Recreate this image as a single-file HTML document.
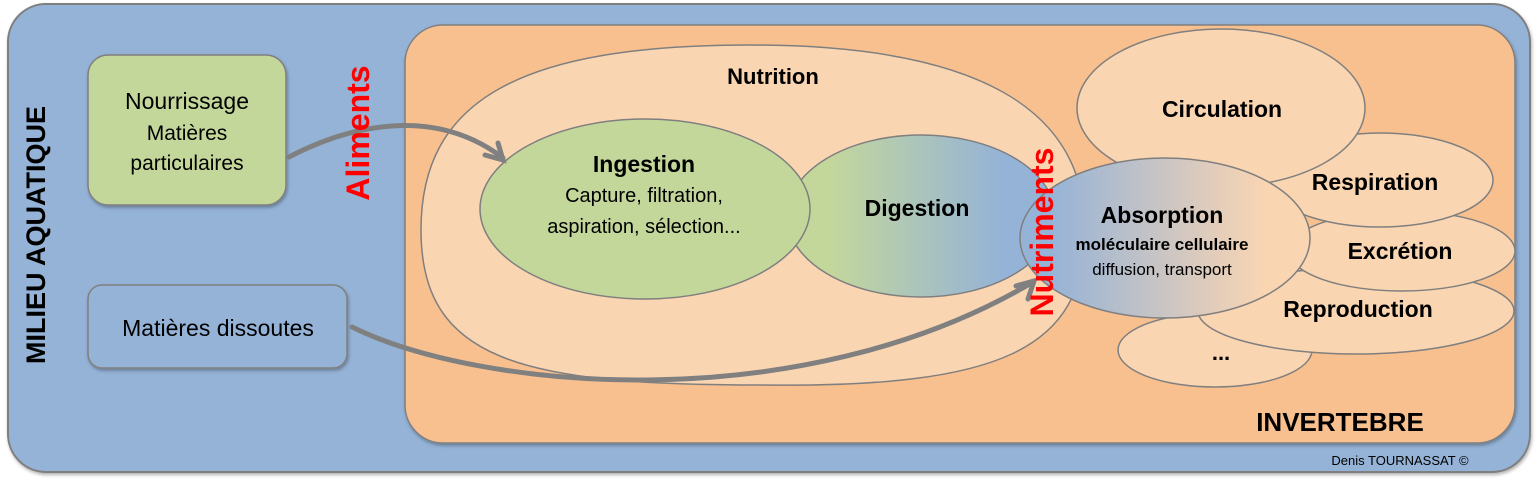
<!DOCTYPE html>
<html><head><meta charset="utf-8"><style>
html,body{margin:0;padding:0;background:#fff}
svg{display:block;font-family:"Liberation Sans","DejaVu Sans",sans-serif}
</style></head><body>
<svg width="1539" height="484" viewBox="0 0 1539 484" xmlns="http://www.w3.org/2000/svg">
<defs>
<linearGradient id="dg" x1="0" x2="1" y1="0" y2="0"><stop offset="0.15" stop-color="#c4d79b"/><stop offset="0.8" stop-color="#95b3d7"/></linearGradient>
<linearGradient id="ag" x1="0" x2="1" y1="0" y2="0"><stop offset="0.1" stop-color="#95b3d7"/><stop offset="0.85" stop-color="#fad5b2"/></linearGradient>
<filter id="sh" x="-5%" y="-5%" width="110%" height="115%"><feDropShadow dx="1" dy="2" stdDeviation="1.5" flood-color="#000" flood-opacity="0.3"/></filter>
</defs>
<rect x="8" y="4" width="1522" height="468" rx="38" fill="#95b3d7" stroke="#7f7f7f" stroke-width="2" filter="url(#sh)"/>
<rect x="405" y="25" width="1110" height="418" rx="38" fill="#f8c08f" stroke="#7f7f7f" stroke-width="1.5" filter="url(#sh)"/>
<rect x="88" y="55" width="198" height="150" rx="20" fill="#c4d79b" stroke="#7f7f7f" stroke-width="1.5" filter="url(#sh)"/>
<rect x="88" y="285" width="259" height="83" rx="14" fill="#95b3d7" stroke="#7f7f7f" stroke-width="1.5" filter="url(#sh)"/>
<path d="M421,230 C421,100 520,45 750,45 C980,45 1085,110 1085,230 C1085,350 1000,388 760,385 C520,385 421,360 421,230 Z" fill="#fad5b2" stroke="#7f7f7f" stroke-width="1.5"/>
<ellipse cx="1215" cy="350" rx="97" ry="37" fill="#fad5b2" stroke="#7f7f7f" stroke-width="1.5"/>
<ellipse cx="1356" cy="311" rx="158" ry="43" fill="#fad5b2" stroke="#7f7f7f" stroke-width="1.5"/>
<ellipse cx="1402" cy="251" rx="113" ry="40" fill="#fad5b2" stroke="#7f7f7f" stroke-width="1.5"/>
<ellipse cx="1380" cy="180" rx="113" ry="47" fill="#fad5b2" stroke="#7f7f7f" stroke-width="1.5"/>
<ellipse cx="1221" cy="108" rx="144" ry="79" fill="#fad5b2" stroke="#7f7f7f" stroke-width="1.5"/>
<ellipse cx="921" cy="216" rx="134" ry="81" fill="url(#dg)" stroke="#7f7f7f" stroke-width="1.5"/>
<ellipse cx="645" cy="209" rx="165" ry="90" fill="#c4d79b" stroke="#7f7f7f" stroke-width="1.5"/>
<ellipse cx="1165" cy="238" rx="145" ry="80" fill="url(#ag)" stroke="#7f7f7f" stroke-width="1.5"/>
<g fill="none" stroke="#808080" stroke-width="5" stroke-linecap="round">
<path d="M289,157 C360,120 440,110 503,158"/>
<path d="M485,155 L503,160 L498,143"/>
<path d="M352,327 C480,390 800,420 1033,282"/>
<path d="M1016,286 L1034,281 L1028,299"/>
</g>
<g text-anchor="middle" fill="#000">
<text x="187" y="109" font-size="23">Nourrissage</text>
<text x="187" y="140" font-size="21">Matières</text>
<text x="187" y="170" font-size="21">particulaires</text>
<text x="218" y="336" font-size="23">Matières dissoutes</text>
<text x="773" y="84" font-size="22" font-weight="bold">Nutrition</text>
<text x="644" y="172" font-size="23" font-weight="bold">Ingestion</text>
<text x="644" y="202" font-size="20">Capture, filtration,</text>
<text x="644" y="233" font-size="20">aspiration, sélection...</text>
<text x="917" y="216" font-size="23" font-weight="bold">Digestion</text>
<text x="1222" y="117" font-size="23" font-weight="bold">Circulation</text>
<text x="1375" y="190" font-size="23" font-weight="bold">Respiration</text>
<text x="1400" y="259" font-size="23" font-weight="bold">Excrétion</text>
<text x="1358" y="317" font-size="23" font-weight="bold">Reproduction</text>
<text x="1221" y="360" font-size="22" font-weight="bold">...</text>
<text x="1162" y="223" font-size="23" font-weight="bold">Absorption</text>
<text x="1162" y="250" font-size="17" font-weight="bold">moléculaire cellulaire</text>
<text x="1162" y="275" font-size="17">diffusion,  transport</text>
<text x="1340" y="431" font-size="26" font-weight="bold">INVERTEBRE</text>
<text x="1400" y="465" font-size="13">Denis TOURNASSAT ©</text>
<text transform="translate(45,235) rotate(-90)" font-size="27" font-weight="bold">MILIEU AQUATIQUE</text>
<text transform="translate(369,133) rotate(-90)" font-size="32" font-weight="bold" fill="#ff0000">Aliments</text>
<text transform="translate(1053,232) rotate(-90)" font-size="32" font-weight="bold" fill="#ff0000">Nutriments</text>
</g>
</svg>
</body></html>
